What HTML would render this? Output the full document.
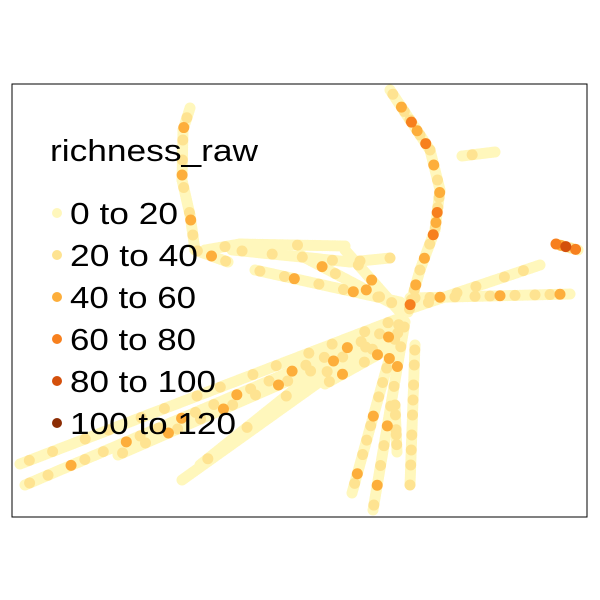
<!DOCTYPE html>
<html><head><meta charset="utf-8"><style>
body{margin:0;background:#fff;width:600px;height:600px;overflow:hidden}
svg{display:block;font-family:"Liberation Sans",Arial,sans-serif}
</style></head><body>
<svg id="chart" width="600" height="600">
<rect x="0" y="0" width="600" height="600" fill="#fff"/>
<g id="pts"></g>
<rect x="12" y="84" width="575" height="433" fill="none" stroke="#000" stroke-width="1"/>
<g id="legend">
<text x="50" y="161" font-size="31" textLength="208" lengthAdjust="spacingAndGlyphs">richness_raw</text>
</g>
</svg>
<script>
const categories = ["0 to 20","20 to 40","40 to 60","60 to 80","80 to 100","100 to 120"];
const labelWidths = [108,128,126,126,146,166];
const colors = ["#FFF7BC","#FEE391","#FDAE3B","#F7801E","#D4500C","#8C2D04"];
const tracks = [
  [[190,108],[183,130],[182,180],[190,215],[195,250],[228,262]],
  [[390,90],[410,120],[430,150],[440,190],[435,230],[420,270],[408,312]],
  [[462,156],[495,152]],
  [[205,250],[240,244],[345,246]],
  [[232,250],[350,262],[390,258]],
  [[345,250],[400,312]],
  [[300,255],[395,305]],
  [[255,270],[400,302]],
  [[410,298],[570,294]],
  [[400,312],[540,265]],
  [[556,244],[578,250]],
  [[20,464],[395,320]],
  [[25,485],[398,326]],
  [[118,455],[400,332]],
  [[200,465],[300,385],[395,338]],
  [[182,480],[350,360]],
  [[325,384],[395,345]],
  [[400,320],[352,493]],
  [[405,322],[373,510]],
  [[415,345],[410,485]],
  [[395,405],[397,452]]
];
const classSeq = [
  [0,0,1,0,2,0,0,1,0,0,0,1,0,0,2,0,0,1,0,0],
  [0,1,0,0,2,1,0,1,3,0,2,1,0,3,0,1,0,0,2,0],
  [0,0,1,0,0,0,0,0],
  [0,0,0,0,1,0,0,0,0,0,0,0,0,0,0],
  [0,0,1,0,0,0,0,0,1,0,0,0],
  [0,0,0,0,1,0,0,0,2,0],
  [0,0,0,0,0,2,0,0,1,0],
  [0,1,0,0,0,0,1,0,2,0,0,0],
  [0,1,0,0,1,0,2,0,0,1,0,0],
  [0,0,1,0,0,0,1,0,0,0],
  [3,2,4,1],
  [0,0,1,0,0,0,0,1,0,0,0,0],
  [0,1,0,0,0,1,0,0,0,0,2,0],
  [0,1,0,0,0,0,1,0,0,0,0,2],
  [0,0,1,0,0,0,0,0,0,0],
  [0,0,0,0,0,0,0,0,0,0],
  [0,1,0,0,2,0,0,0],
  [0,1,0,0,1,0,0,0,2,0,1,0],
  [0,1,0,0,0,1,0,0,0,2,0,0],
  [0,1,0,0,1,0,0,0,1,0],
  [1,0,1,0,0,1]
];
const xDomain=[12,587], yDomain=[84,517];
const xScale=v=>12+(v-xDomain[0])/(xDomain[1]-xDomain[0])*575;
const yScale=v=>84+(v-yDomain[0])/(yDomain[1]-yDomain[0])*433;
const NS="http://www.w3.org/2000/svg";
const layer=document.getElementById('pts');
const pts=[];
tracks.forEach((tr,ti)=>{
  let k=0;
  for(let s=0;s<tr.length-1;s++){
    const [x0,y0]=tr[s],[x1,y1]=tr[s+1];
    const len=Math.hypot(x1-x0,y1-y0);
    const n=Math.max(2,Math.round(len/2.5));
    for(let i=0;i<=n;i++){
      const t=i/n;
      const seq=classSeq[ti];
      const c=(k%2===0)?seq[Math.floor(k/2)%seq.length]:0;
      pts.push({x:x0+(x1-x0)*t,y:y0+(y1-y0)*t,c});
      k++;
    }
  }
});
pts.sort((a,b)=>a.c-b.c);
pts.forEach(p=>{
  const el=document.createElementNS(NS,'circle');
  el.setAttribute('cx',xScale(p.x));el.setAttribute('cy',yScale(p.y));
  el.setAttribute('r',5.5);el.setAttribute('fill',colors[p.c]);
  
  
  layer.appendChild(el);
});
const lg=document.getElementById('legend');
categories.forEach((c,i)=>{
  const y=213+i*42;
  const d=document.createElementNS(NS,'circle');
  d.setAttribute('cx',57);d.setAttribute('cy',y);d.setAttribute('r',5);d.setAttribute('fill',colors[i]);
  
  
  lg.appendChild(d);
  const t=document.createElementNS(NS,'text');
  t.setAttribute('x',70);t.setAttribute('y',y+11);t.setAttribute('font-size','31');
  t.setAttribute('textLength',labelWidths[i]);t.setAttribute('lengthAdjust','spacingAndGlyphs');
  t.textContent=c;
  
  
  lg.appendChild(t);
});
</script>
</body></html>
